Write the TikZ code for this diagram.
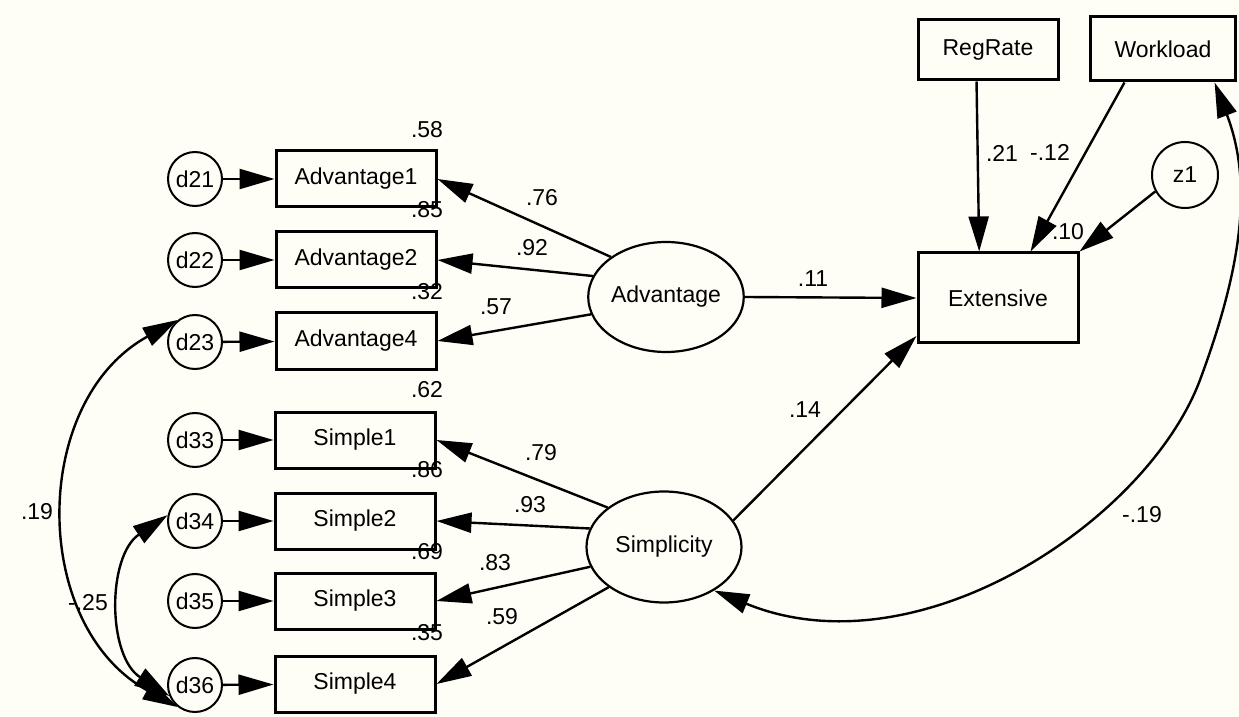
\documentclass[tikz,border=0pt]{standalone}
\usepackage{fontspec}
\setmainfont{Liberation Sans}
\usetikzlibrary{arrows.meta,shapes.geometric,calc}
\definecolor{paper}{RGB}{254,254,246}
\begin{document}
\begin{tikzpicture}[x=0.5pt,y=-0.5pt,
  every node/.style={font=\fontsize{11.5}{13}\selectfont},
  obs/.style={draw,rectangle,line width=1.5pt,minimum width=80pt,minimum height=28pt,inner sep=0pt},
  err/.style={draw,circle,line width=1pt,minimum size=27pt,inner sep=0pt},
  lat/.style={draw,ellipse,line width=1.1pt,inner sep=0pt},
  lbl/.style={inner sep=0pt},
  arr/.style={line width=1.2pt,-{Triangle[length=17.5pt,width=10pt]}},
  cov/.style={line width=1.2pt,{Triangle[length=17.5pt,width=10pt]}-{Triangle[length=17.5pt,width=10pt]}},
]
\fill[paper] (0,0) rectangle (1239,717);
\useasboundingbox (0,0) rectangle (1239,717);

% error terms
\node[err] (d21) at (195,179) {d21};
\node[err] (d22) at (195,260) {d22};
\node[err] (d23) at (195,342) {d23};
\node[err] (d33) at (195,440) {d33};
\node[err] (d34) at (195,521) {d34};
\node[err] (d35) at (195,601) {d35};
\node[err] (d36) at (195,685) {d36};

% indicators
\node[obs] (a1) at (356,179) {Advantage1};
\node[obs] (a2) at (356,260) {Advantage2};
\node[obs] (a4) at (356,341) {Advantage4};
\node[obs] (s1) at (355,440) {Simple1};
\node[obs] (s2) at (355,521) {Simple2};
\node[obs] (s3) at (355,601) {Simple3};
\node[obs] (s4) at (355,684) {Simple4};

% latent factors
\node[lat,minimum width=76.5pt,minimum height=55pt] (adv) at (666,297) {Advantage};
\node[lat,minimum width=77.5pt,minimum height=55.5pt] (simp) at (664,547) {Simplicity};

% outcome and covariates
\node[obs,minimum height=45pt] (ext) at (998,298) {Extensive};
\node[obs,minimum width=70pt,minimum height=30pt] (reg) at (988,50) {RegRate};
\node[obs,minimum width=72.5pt,minimum height=32pt] (wl) at (1163,49) {Workload};
\node[err,minimum size=33pt] (z1) at (1185,175) {z1};

% residual paths
\foreach \e/\o in {d21/a1,d22/a2,d23/a4,d33/s1,d34/s2,d35/s3,d36/s4}
  \draw[arr] (\e) -- (\o);

% loadings
\draw[arr] (adv.144) -- (a1.east);
\draw[arr] (adv.164) -- (a2.east);
\draw[arr] (adv.193) -- (a4.east);
\draw[arr] (simp.145) -- (s1.east);
\draw[arr] (simp.166) -- (s2.east);
\draw[arr] (simp.195) -- (s3.east);
\draw[arr] (simp.216) -- (s4.east);

% structural paths
\draw[arr] (adv.east) -- (ext.west);
\draw[arr] (simp.21) -- (ext.205);
\draw[arr] (reg.250) -- (ext.112);
\draw[arr] (wl.221) -- (ext.55);
\draw[arr] (z1.209) -- (ext.north east);

% covariances
\draw[cov] (d23.128) .. controls (30,401) and (30,626) .. (d36.232);
\draw[cov] (d34.168) .. controls (107,556) and (107,656) .. (d36.203);
\draw[cov] (simp.319) .. controls (918,674) and (1147,521) .. (1200,380)
  .. controls (1242,267) and (1253,183) .. (wl.327);

% squared multiple correlations
\node[lbl] (r1) at (427,130) {.58};
\node[lbl] (r2) at (427,210) {.85};
\node[lbl] (r3) at (427,292) {.32};
\node[lbl] (r4) at (427,390) {.62};
\node[lbl] (r5) at (427,470) {.86};
\node[lbl] (r6) at (427,552) {.69};
\node[lbl] (r7) at (427,633) {.35};
\node[lbl] (r8) at (1068,232) {.10};

% coefficients
\node[lbl] (c1) at (542,198) {.76};
\node[lbl] (c2) at (532,248) {.92};
\node[lbl] (c3) at (496,307) {.57};
\node[lbl] (c4) at (541,453) {.79};
\node[lbl] (c5) at (530,505) {.93};
\node[lbl] (c6) at (495,563) {.83};
\node[lbl] (c7) at (502,617) {.59};
\node[lbl] (c8) at (813,279) {.11};
\node[lbl] (c9) at (805,410) {.14};
\node[lbl] (c10) at (1002,153) {.21};
\node[lbl] (c11) at (1050,152) {-.12};
\node[lbl] (c12) at (37,512) {.19};
\node[lbl] (c13) at (88,603) {-.25};
\node[lbl] (c14) at (1142,515) {-.19};
\end{tikzpicture}
\end{document}
